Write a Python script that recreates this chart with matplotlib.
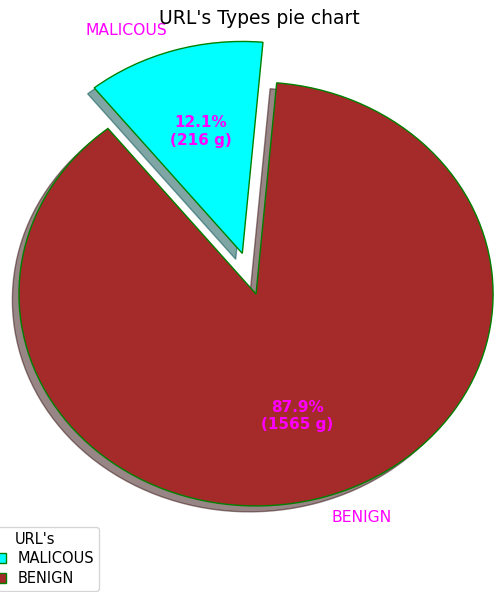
import matplotlib.pyplot as plt
import numpy as np

# data
labels = ["MALICOUS", "BENIGN"]
counts = [216, 1565]
colors = ["cyan", "brown"]
explode = [0.2, 0.0]


def pct_text(pct, allvals):
    absolute = int(round(pct / 100. * np.sum(allvals)))
    return "{:.1f}%\n({:d} g)".format(pct, absolute)


fig = plt.figure(figsize=(4.95, 5.92), dpi=100)
ax = fig.add_axes([0, 0, 1, 1])

wp = {'linewidth': 1, 'edgecolor': "green"}
wedges, texts, autotexts = ax.pie(counts,
                                  autopct=lambda pct: pct_text(pct, counts),
                                  explode=explode,
                                  labels=labels,
                                  shadow=True,
                                  colors=colors,
                                  startangle=85,
                                  wedgeprops=wp,
                                  textprops=dict(color="magenta", fontsize=11.25))

# stretched look of the original screenshot
ax.set_aspect('auto')
ax.set_xlim(-1.080, 1.008)
ax.set_ylim(-1.406, 1.387)
ax.axis('off')

plt.setp(autotexts, size=11, weight="bold")

fig.text(0.523, 0.968, "URL's Types pie chart", ha='center', va='center', fontsize=13.5)

ax.legend(wedges, labels, title="URL's", loc="upper left",
          bbox_to_anchor=(-0.058, 0.110), bbox_transform=fig.transFigure,
          borderaxespad=0, fontsize=10.5, title_fontsize=10.5,
          labelspacing=0.3, borderpad=0.35)

plt.savefig("out.png", dpi=100)
